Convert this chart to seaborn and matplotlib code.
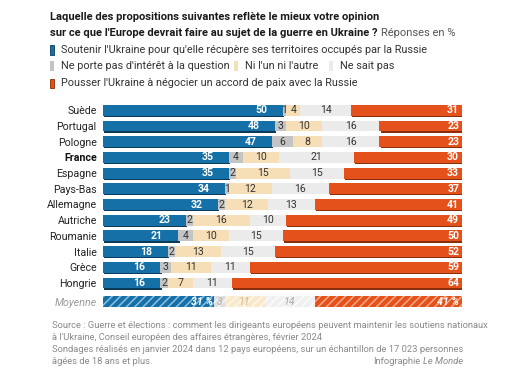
import numpy as np
import pandas as pd
import matplotlib
matplotlib.use("Agg")
import matplotlib.pyplot as plt
import matplotlib.patheffects as pe
from matplotlib.patches import Rectangle
import seaborn as sns

# ---------------- data ----------------
countries = ["Suède", "Portugal", "Pologne", "France", "Espagne", "Pays-Bas",
             "Allemagne", "Autriche", "Roumanie", "Italie", "Grèce", "Hongrie",
             "Moyenne"]
soutenir = [50, 48, 47, 35, 35, 34, 32, 23, 21, 18, 16, 16, 31]
pas_interet = [1, 3, 6, 4, 2, 1, 2, 2, 4, 2, 3, 2, 3]
ni_ni = [4, 10, 8, 10, 15, 12, 12, 16, 10, 13, 11, 7, 11]
ne_sait_pas = [14, 16, 16, 21, 15, 16, 13, 10, 15, 15, 11, 11, 14]
pousser = [31, 23, 23, 30, 33, 37, 41, 49, 50, 52, 59, 64, 41]

series_names = ["Soutenir l'Ukraine pour qu'elle récupère ses territoires occupés par la Russie",
                "Ne porte pas d'intérêt à la question",
                "Ni l'un ni l'autre",
                "Ne sait pas",
                "Pousser l'Ukraine à négocier un accord de paix avec la Russie"]

# ---------------- style ----------------
sns.set_style("white")
plt.rcParams["font.family"] = ["Roboto", "DejaVu Sans"]
plt.rcParams["hatch.linewidth"] = 1.1

BLUE, BLUE_E = "#1570a8", "#0b3b58"
GREY = "#c4c4c4"
BEIGE = "#f6dfb6"
LIGHT = "#ebebeb"
ORANGE, ORANGE_E = "#e5511b", "#8a2e0c"
colors = [BLUE, GREY, BEIGE, LIGHT, ORANGE]
shadows = [BLUE_E, None, None, None, ORANGE_E]
avg_stripes = ["#8cc0de", "#f4f4f4", "#fdf6ea", "#fbfbfb", "#f7a984"]
avg_faces = [BLUE, "#dedede", "#f8e8cc", "#f0f0f0", ORANGE]

W, H = 510, 369
fig = plt.figure(figsize=(W / 100, H / 100), dpi=100)

def fx(px):
    return px / W

def fy(py):
    return 1 - py / H

row_pos = list(range(12)) + [12.2]
top_px, row_px = 110.3, 15.7
ax_top = top_px - 0.5 * row_px
ax_bot = top_px + 12.7 * row_px
ax = fig.add_axes([fx(103), fy(ax_bot), (462 - 103) / W, (ax_bot - ax_top) / H])

df = pd.DataFrame({"pos": row_pos, "country": countries,
                   "s0": soutenir, "s1": pas_interet, "s2": ni_ni,
                   "s3": ne_sait_pas, "s4": pousser})
vals = np.array([soutenir, pas_interet, ni_ni, ne_sait_pas, pousser], dtype=float)
lefts = np.vstack([np.zeros(len(countries)), np.cumsum(vals, axis=0)[:-1]])

for k in range(5):
    n0 = len(ax.patches)
    sns.barplot(data=df, x=f"s{k}", y="pos", orient="y", native_scale=True,
                width=0.7, left=lefts[k], color=colors[k], saturation=1,
                edgecolor="none", linewidth=0, errorbar=None, ax=ax)
    new = ax.patches[n0:]
    for p in new:
        yc = p.get_y() + p.get_height() / 2
        if abs(yc - 12.2) < 0.2:
            p.set_facecolor(avg_faces[k])
            p.set_edgecolor(avg_stripes[k])
            p.set_hatch("////")
            p.set_linewidth(0)
        elif shadows[k] is not None:
            p.set_path_effects([pe.SimplePatchShadow(offset=(0.8, -0.8),
                                                     shadow_rgbFace=shadows[k], alpha=1.0),
                                pe.Normal()])

ax.set_xlim(0, 100)
ax.set_ylim(12.7, -0.5)
ax.set_xticks([])
ax.set_xlabel("")
ax.set_ylabel("")
for s in ax.spines.values():
    s.set_visible(False)
ax.set_yticks(row_pos)
ax.set_yticklabels(countries)
ax.tick_params(axis="y", length=0, pad=4.5, labelsize=7.7, labelcolor="#222")
for lab in ax.get_yticklabels():
    if lab.get_text() == "France":
        lab.set_fontweight("bold")
        lab.set_color("#111")
    if lab.get_text() == "Moyenne":
        lab.set_fontstyle("italic")
        lab.set_color("#9a9a9a")

# value labels
FS = 7.6
for i, c in enumerate(countries):
    y = row_pos[i]
    avg = c == "Moyenne"
    for k in range(5):
        v = vals[k, i]
        l = lefts[k, i]
        if k == 0:
            if avg:
                ax.text(l + v - 0.4, y, f"{int(v)} %", ha="right", va="center",
                        color="white", fontsize=FS, fontweight="bold", fontstyle="italic")
            else:
                ax.text(l + v - 4.3, y, f"{int(v)}", ha="right", va="center",
                        color="white", fontsize=FS, fontweight="bold")
        elif k == 4:
            txt = f"{int(v)} %" if avg else f"{int(v)}"
            ax.text(99.2, y, txt, ha="right", va="center", color="white",
                    fontsize=FS, fontweight="bold",
                    fontstyle="italic" if avg else "normal")
        else:
            col = "#333333"
            if avg:
                col = ["", "#b0b0b0", "#d2b98a", "#a8a8a8"][k]
            ax.text(l + v / 2, y, f"{int(v)}", ha="center", va="center",
                    color=col, fontsize=FS, fontstyle="italic" if avg else "normal")

# ---------------- header ----------------
TFS = 8.0
t1 = fig.text(fx(50), fy(17), "Laquelle des propositions suivantes reflète le mieux votre opinion",
              ha="left", va="center", fontsize=TFS, fontweight="bold", color="#1a1a1a")
t2 = fig.text(fx(50), fy(33), "sur ce que l'Europe devrait faire au sujet de la guerre en Ukraine ?",
              ha="left", va="center", fontsize=TFS, fontweight="bold", color="#1a1a1a")
fig.canvas.draw()
r = fig.canvas.get_renderer()
bb = t2.get_window_extent(r)
fig.text(bb.x1 / W + fx(3.5), fy(33), "Réponses en %", ha="left", va="center",
         fontsize=TFS, color="#555555")

LFS = 7.8
def legend_item(x_sq, y, color, edge, label):
    fig.patches.append(Rectangle((fx(x_sq), fy(y + 4.5)), fx(4), 9 / H,
                                 transform=fig.transFigure, facecolor=color,
                                 edgecolor=edge, linewidth=0.6 if edge != "none" else 0))
    fig.text(fx(x_sq + 11), fy(y), label, ha="left", va="center", fontsize=LFS,
             color="#333333")

legend_item(50, 50, BLUE, BLUE_E, series_names[0])
legend_item(50, 66, GREY, "none", series_names[1])
legend_item(234, 66, BEIGE, "none", series_names[2])
legend_item(329, 66, LIGHT, "none", series_names[3])
legend_item(50, 83, ORANGE, ORANGE_E, series_names[4])

# ---------------- footer ----------------
foot = ["Source : Guerre et élections : comment les dirigeants européens peuvent maintenir les soutiens nationaux",
        "à l'Ukraine, Conseil européen des affaires étrangères, février 2024",
        "Sondages réalisés en janvier 2024 dans 12 pays européens, sur un échantillon de 17 023 personnes",
        "âgées de 18 ans et plus."]
FFS = 6.75
for j, line in enumerate(foot):
    fig.text(fx(52), fy(326 + 11.7 * j), line, ha="left", va="center",
             fontsize=FFS, color="#8a8a8a")
lm = fig.text(fx(463), fy(326 + 11.7 * 3), "Le Monde", ha="right", va="center",
              fontsize=FFS, color="#8a8a8a", fontstyle="italic")
fig.canvas.draw()
bb = lm.get_window_extent(fig.canvas.get_renderer())
fig.text(bb.x0 / W - fx(2.5), fy(326 + 11.7 * 3), "Infographie", ha="right", va="center",
         fontsize=FFS, color="#8a8a8a")

fig.savefig("out.png", dpi=100, facecolor="white")
